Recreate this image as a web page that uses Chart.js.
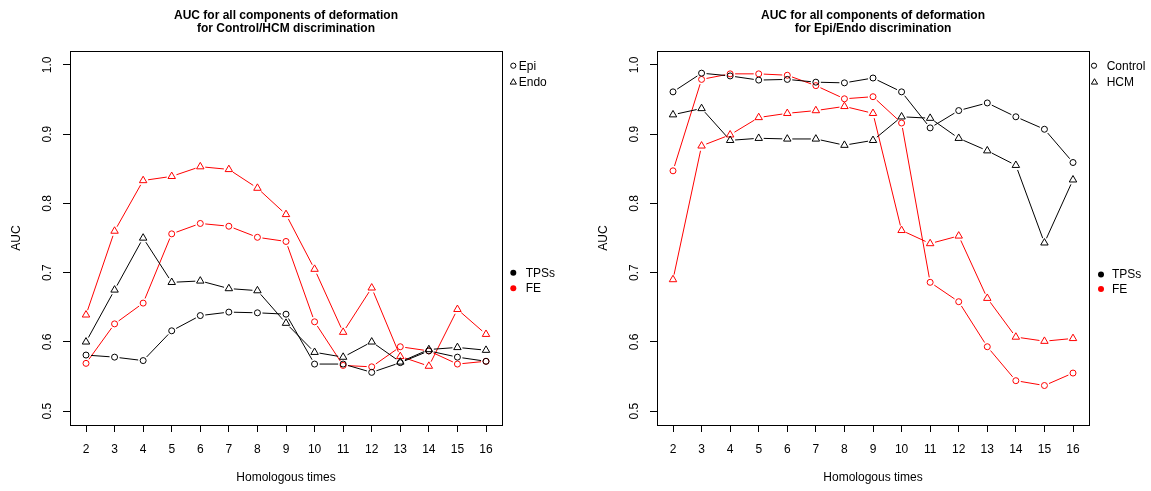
<!DOCTYPE html>
<html>
<head>
<meta charset="utf-8">
<script src="https://cdn.jsdelivr.net/npm/chart.js@4.4.1/dist/chart.umd.min.js"></script>
<style>
  html, body { margin: 0; padding: 0; background: #fff; }
  #wrap { position: relative; width: 1151px; height: 491px; }
  .panel { position: absolute; top: 0; height: 491px; }
</style>
</head>
<body>
<div id="wrap">
  <div class="panel" style="left:0;width:575px"><canvas id="control_hcm"></canvas></div>
  <div class="panel" style="left:575px;width:576px"><canvas id="epi_endo"></canvas></div>
</div>
<script>
// homologous times on the x axis
const times = [2, 3, 4, 5, 6, 7, 8, 9, 10, 11, 12, 13, 14, 15, 16];
const yTicks = [0.5, 0.6, 0.7, 0.8, 0.9, 1.0];

// left panel: Control/HCM discrimination
const epiTPS  = [0.581, 0.578, 0.573, 0.616, 0.638, 0.643, 0.642, 0.640, 0.568, 0.568, 0.556, 0.570, 0.587, 0.578, 0.572];
const endoTPS = [0.600, 0.675, 0.750, 0.686, 0.688, 0.677, 0.674, 0.627, 0.585, 0.578, 0.600, 0.571, 0.589, 0.592, 0.588];
const epiFE   = [0.569, 0.626, 0.656, 0.756, 0.771, 0.767, 0.751, 0.745, 0.629, 0.566, 0.564, 0.593, 0.587, 0.568, 0.572];
const endoFE  = [0.639, 0.760, 0.833, 0.839, 0.853, 0.849, 0.822, 0.784, 0.705, 0.614, 0.678, 0.579, 0.565, 0.647, 0.611];

// right panel: Epi/Endo discrimination
const controlTPS = [0.961, 0.988, 0.984, 0.978, 0.979, 0.975, 0.974, 0.981, 0.961, 0.909, 0.934, 0.945, 0.925, 0.907, 0.859];
const hcmTPS     = [0.928, 0.937, 0.891, 0.894, 0.893, 0.893, 0.884, 0.891, 0.925, 0.923, 0.894, 0.876, 0.855, 0.743, 0.834];
const controlFE  = [0.847, 0.979, 0.987, 0.987, 0.985, 0.970, 0.951, 0.954, 0.916, 0.686, 0.658, 0.593, 0.544, 0.537, 0.555];
const hcmFE      = [0.690, 0.883, 0.899, 0.924, 0.930, 0.934, 0.940, 0.930, 0.761, 0.742, 0.753, 0.663, 0.607, 0.601, 0.605];

const FONT = "'Liberation Sans', Arial, Helvetica, sans-serif";
const RED = '#ff0000';
const GAP = 5;

// R type="b": leave a small gap at both ends of every segment
function gapDash(c) {
  const len = Math.hypot(c.p1.x - c.p0.x, c.p1.y - c.p0.y);
  return [0, GAP, Math.max(0, len - 2 * GAP), 3000 + c.p0DataIndex];
}

function series(label, values, color, shape) {
  return {
    label: label,
    data: times.map((t, i) => ({ x: t, y: values[i] })),
    borderColor: color,
    borderWidth: 1,
    pointStyle: shape,
    pointRadius: shape === 'triangle' ? 4.3 : 3,
    pointBorderColor: color,
    pointBackgroundColor: 'rgba(0,0,0,0)',
    pointBorderWidth: 1,
    fill: false,
    tension: 0,
    segment: { borderDash: gapDash }
  };
}

function drawSymbol(ctx, kind, x, y, color) {
  ctx.beginPath();
  if (kind === 'triangle') {
    const r = 3.6;
    ctx.moveTo(x, y - r);
    ctx.lineTo(x + r * 0.866, y + r / 2);
    ctx.lineTo(x - r * 0.866, y + r / 2);
    ctx.closePath();
    ctx.strokeStyle = color;
    ctx.stroke();
  } else if (kind === 'dot') {
    ctx.arc(x, y, 3, 0, Math.PI * 2);
    ctx.fillStyle = color;
    ctx.fill();
  } else {
    ctx.arc(x, y, 2.6, 0, Math.PI * 2);
    ctx.strokeStyle = color;
    ctx.stroke();
  }
}

// box, rotated y labels and the two legends, the way R draws them
const rFrame = {
  id: 'rFrame',
  afterDraw(chart, args, opts) {
    const ctx = chart.ctx;
    const a = chart.chartArea;
    const ys = chart.scales.y;
    ctx.save();
    ctx.lineWidth = 1;
    ctx.strokeStyle = '#000';
    ctx.strokeRect(Math.round(a.left) + 0.5, Math.round(a.top) + 0.5, Math.round(a.right - a.left), Math.round(a.bottom - a.top));

    ctx.fillStyle = '#000';
    ctx.font = '12px ' + FONT;
    ctx.textAlign = 'center';
    ctx.textBaseline = 'middle';
    ys.ticks.forEach(t => {
      ctx.save();
      ctx.translate(a.left - 22.5, ys.getPixelForValue(t.value));
      ctx.rotate(-Math.PI / 2);
      ctx.fillText(t.value.toFixed(1), 0, 0);
      ctx.restore();
    });

    ctx.textAlign = 'left';
    opts.items.forEach(it => {
      const y = a.top + it.dy;
      drawSymbol(ctx, it.kind, a.right + it.sx, y, it.color);
      ctx.fillStyle = '#000';
      ctx.fillText(it.label, a.right + it.tx, y + 0.5);
    });
    ctx.restore();
  }
};

function buildChart(id, title, padLeft, padRight, datasets, items) {
  const axisFont = { family: FONT, size: 12 };
  const tickGrid = { display: true, drawOnChartArea: false, drawTicks: true, tickLength: 7, color: '#000', lineWidth: 1 };
  return new Chart(document.getElementById(id), {
    type: 'line',
    data: { datasets: datasets },
    options: {
      responsive: true,
      maintainAspectRatio: false,
      animation: false,
      layout: { padding: { left: padLeft, right: padRight, top: 0, bottom: 0 } },
      plugins: {
        legend: { display: false },
        tooltip: { enabled: false },
        title: {
          display: true,
          text: title,
          fullSize: false,
          color: '#000',
          font: { family: FONT, size: 12, weight: 'bold', lineHeight: 1.05 },
          padding: { top: 9.4, bottom: 16.4 }
        },
        rFrame: { items: items }
      },
      scales: {
        x: {
          type: 'linear',
          min: 1.44,
          max: 16.56,
          afterBuildTicks: s => { s.ticks = times.map(v => ({ value: v })); },
          afterFit: s => { s.height = 66; },
          grid: tickGrid,
          border: { display: false },
          ticks: { color: '#000', font: axisFont, padding: 10, autoSkip: false, maxRotation: 0, callback: v => String(v) },
          title: { display: true, text: 'Homologous times', color: '#000', font: axisFont, padding: { top: 0, bottom: 5.8 } }
        },
        y: {
          type: 'linear',
          min: 0.48,
          max: 1.02,
          afterBuildTicks: s => { s.ticks = yTicks.map(v => ({ value: v })); },
          afterFit: s => { s.width = 70; },
          grid: tickGrid,
          border: { display: false },
          ticks: { display: false },
          title: { display: true, text: 'AUC', color: '#000', font: axisFont, padding: { top: 9, bottom: 0 } }
        }
      }
    },
    plugins: [rFrame]
  });
}

buildChart('control_hcm',
  ['AUC for all components of deformation', 'for Control/HCM discrimination'],
  0, 73,
  [
    series('Epi TPSs', epiTPS, '#000', 'circle'),
    series('Endo TPSs', endoTPS, '#000', 'triangle'),
    series('Epi FE', epiFE, RED, 'circle'),
    series('Endo FE', endoFE, RED, 'triangle')
  ],
  [
    { label: 'Epi', kind: 'circle', color: '#000', sx: 11.3, tx: 16.7, dy: 14.7 },
    { label: 'Endo', kind: 'triangle', color: '#000', sx: 11.3, tx: 16.7, dy: 31.3 },
    { label: 'TPSs', kind: 'dot', color: '#000', sx: 11.3, tx: 23.7, dy: 221.7 },
    { label: 'FE', kind: 'dot', color: RED, sx: 11.3, tx: 23.7, dy: 237.3 }
  ]);

buildChart('epi_endo',
  ['AUC for all components of deformation', 'for Epi/Endo discrimination'],
  12, 62,
  [
    series('Control TPSs', controlTPS, '#000', 'circle'),
    series('HCM TPSs', hcmTPS, '#000', 'triangle'),
    series('Control FE', controlFE, RED, 'circle'),
    series('HCM FE', hcmFE, RED, 'triangle')
  ],
  [
    { label: 'Control', kind: 'circle', color: '#000', sx: 5, tx: 17.7, dy: 14.7 },
    { label: 'HCM', kind: 'triangle', color: '#000', sx: 5.5, tx: 17.7, dy: 31.3 },
    { label: 'TPSs', kind: 'dot', color: '#000', sx: 12, tx: 23, dy: 223.5 },
    { label: 'FE', kind: 'dot', color: RED, sx: 12, tx: 23, dy: 238 }
  ]);
</script>
</body>
</html>
